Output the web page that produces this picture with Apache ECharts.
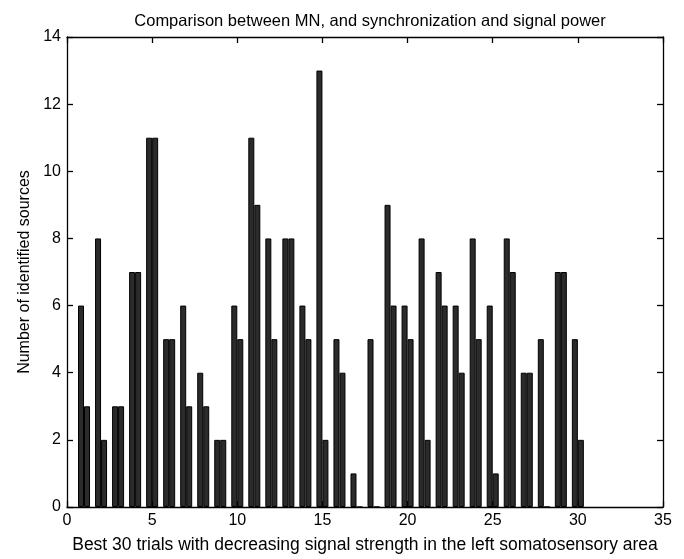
<!DOCTYPE html>
<html>
<head>
<meta charset="utf-8">
<script src="https://cdn.jsdelivr.net/npm/echarts@6/dist/echarts.min.js"></script>
<style>html,body{margin:0;padding:0;background:#fff}#c{width:684px;height:559px}</style>
</head>
<body>
<div id="c"></div>
<script>
const trials = [1,2,3,4,5,6,7,8,9,10,11,12,13,14,15,16,17,18,19,20,21,22,23,24,25,26,27,28,29,30];
const seriesA = [6,8,3,7,11,5,6,4,2,6,11,8,8,6,13,5,1,5,9,6,8,7,6,8,6,8,4,5,7,5];
const seriesB = [3,2,3,7,11,5,3,3,2,5,9,5,8,5,2,4,0,0,6,5,2,6,4,5,1,7,4,0,7,2];
const xTicks = {min:0, max:35, interval:5};
const yTicks = {min:0, max:14, interval:2};
const titleText = 'Comparison between MN, and synchronization and signal power';
const xName = 'Best 30 trials with decreasing signal strength in the left somatosensory area';
const yName = 'Number of identified sources';

const font = 'Liberation Sans, Arial, sans-serif';
const chart = echarts.init(document.getElementById('c'));
const lineStyle = {color:'#000', width:1.3};
const axisBase = {
  axisLine:{show:true, onZero:false, lineStyle},
  axisTick:{show:true, inside:true, length:6, lineStyle},
  splitLine:{show:false}
};
const barStyle = {color:'#2b2b2b', borderColor:'#000', borderWidth:1};
chart.setOption({
  animation:false,
  title:{text:titleText, left:365, top:8, textAlign:'center',
    textStyle:{fontFamily:font, fontSize:16.5, fontWeight:'normal', color:'#000'}},
  grid:{left:67, right:21, top:37, bottom:52, containLabel:false},
  xAxis:[
    Object.assign({type:'value', position:'bottom', min:xTicks.min, max:xTicks.max, interval:xTicks.interval,
      name:xName, nameLocation:'middle', nameGap:29,
      nameTextStyle:{fontFamily:font, fontSize:17.5, color:'#000'},
      axisLabel:{fontFamily:font, fontSize:16, color:'#000', margin:6}}, axisBase),
    Object.assign({type:'value', position:'top', min:xTicks.min, max:xTicks.max, interval:xTicks.interval,
      axisLabel:{show:false}}, axisBase)
  ],
  yAxis:[
    Object.assign({type:'value', position:'left', min:yTicks.min, max:yTicks.max, interval:yTicks.interval,
      name:yName, nameLocation:'middle', nameGap:32,
      nameTextStyle:{fontFamily:font, fontSize:16, color:'#000'},
      axisLabel:{fontFamily:font, fontSize:16, color:'#000', margin:6}}, axisBase),
    Object.assign({type:'value', position:'right', min:yTicks.min, max:yTicks.max, interval:yTicks.interval,
      axisLabel:{show:false}}, axisBase)
  ],
  series:[
    {type:'bar', xAxisIndex:0, yAxisIndex:0, barWidth:6, barGap:'0%',
      itemStyle:barStyle, data:trials.map((t,i)=>[t, seriesA[i]])},
    {type:'bar', xAxisIndex:0, yAxisIndex:0, barWidth:6, barGap:'0%',
      itemStyle:barStyle, data:trials.map((t,i)=>[t, seriesB[i]])}
  ]
});
</script>
</body>
</html>
